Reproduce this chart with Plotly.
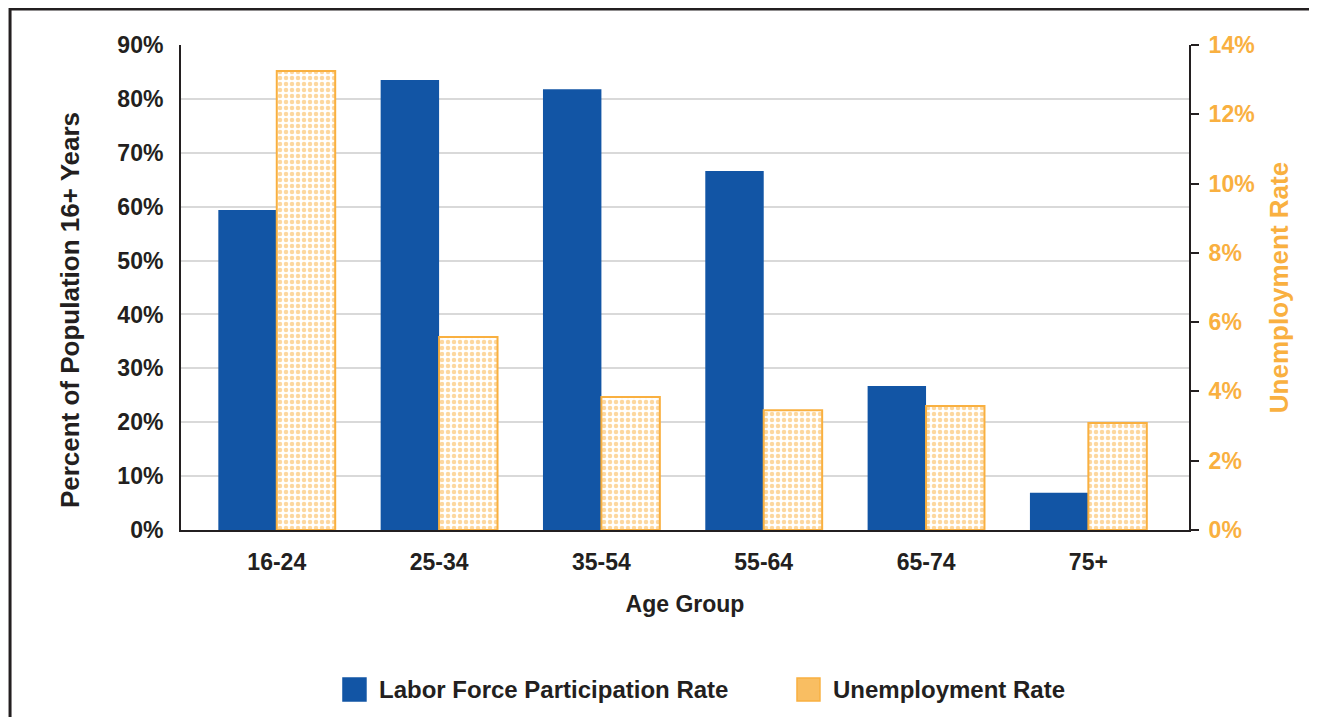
import plotly.graph_objects as go

age_groups = ['16-24', '25-34', '35-54', '55-64', '65-74', '75+']
participation = [59.4, 83.5, 81.8, 66.6, 26.7, 6.9]
unemployment = [13.25, 5.57, 3.84, 3.46, 3.58, 3.09]
left_ticks = [0, 10, 20, 30, 40, 50, 60, 70, 80, 90]
right_ticks = [0, 2, 4, 6, 8, 10, 12, 14]
legend_names = ['Labor Force Participation Rate', 'Unemployment Rate']

blue = '#1255A5'
orange = '#F9B040'
dark = '#231F20'
font = 'Arial, Liberation Sans, sans-serif'

fig = go.Figure()
fig.add_trace(go.Bar(
    x=age_groups, y=participation, name=legend_names[0],
    marker=dict(color=blue, line=dict(width=0)),
    width=0.36, offset=-0.36, yaxis='y', showlegend=False))
fig.add_trace(go.Bar(
    x=age_groups, y=unemployment, name=legend_names[1],
    marker=dict(color='white', line=dict(color=orange, width=2),
                pattern=dict(shape='.', fgcolor=orange, bgcolor='white',
                             size=6, solidity=0.45)),
    width=0.36, offset=0, yaxis='y2', showlegend=False))

# outer frame + hand-made legend with bigger swatches
shapes = [dict(type='rect', xref='paper', yref='paper',
               x0=-0.1696, x1=1.128, y0=-0.6, y1=1.0742,
               line=dict(color=dark, width=3), layer='below')]
annotations = [dict(xref='paper', yref='paper', x=-0.110, y=0.4536,
                    xanchor='center', yanchor='middle', showarrow=False, textangle=-90,
                    text='Percent of Population 16+ Years',
                    font=dict(size=26, weight='bold', color=dark))]
swatch_x = [0.1607, 0.6111]
swatch_fill = [blue, '#F9BE62']
swatch_line = [blue, orange]
for sx, fill, lc, name in zip(swatch_x, swatch_fill, swatch_line, legend_names):
    shapes.append(dict(type='rect', xref='paper', yref='paper',
                       x0=sx, x1=sx + 0.0228, y0=-0.3526, y1=-0.3052,
                       fillcolor=fill, line=dict(color=lc, width=1.5)))
    annotations.append(dict(xref='paper', yref='paper', x=sx + 0.034, y=-0.329,
                            xanchor='left', yanchor='middle', showarrow=False,
                            text=name, font=dict(size=24, weight='bold', color=dark)))

fig.update_layout(
    width=1317, height=717,
    margin=dict(l=173, r=136, t=37, b=195),
    plot_bgcolor='white', paper_bgcolor='white',
    font=dict(family=font, size=23, color=dark, weight='bold'),
    barmode='overlay', showlegend=False,
    xaxis=dict(range=[-0.59, 5.62], showline=True, linecolor=dark, linewidth=2,
               ticks='', ticklabelstandoff=10, tickfont=dict(size=23, weight='bold'),
               title=dict(text='Age Group', font=dict(size=23, weight='bold'), standoff=22)),
    yaxis=dict(range=[0, 90], tickvals=left_ticks,
               ticktext=[f'{v}%' for v in left_ticks],
               showline=True, linecolor=dark, linewidth=2,
               showgrid=True, gridcolor='#D9D9D9', gridwidth=1.5,
               ticks='', ticklabelstandoff=11, zeroline=False,
               tickfont=dict(size=23, weight='bold')),
    yaxis2=dict(range=[0, 14], tickvals=right_ticks,
                ticktext=[f'{v}%' for v in right_ticks],
                overlaying='y', side='right', showgrid=False, zeroline=False,
                showline=True, linecolor=dark, linewidth=2,
                ticks='outside', ticklen=8, tickwidth=2, tickcolor=dark,
                ticklabelstandoff=5,
                tickfont=dict(size=23, color=orange, weight='bold'),
                title=dict(text='Unemployment Rate',
                           font=dict(size=26, color=orange, weight='bold'), standoff=16)),
    shapes=shapes,
    annotations=annotations,
)

fig.write_html('out.html')
